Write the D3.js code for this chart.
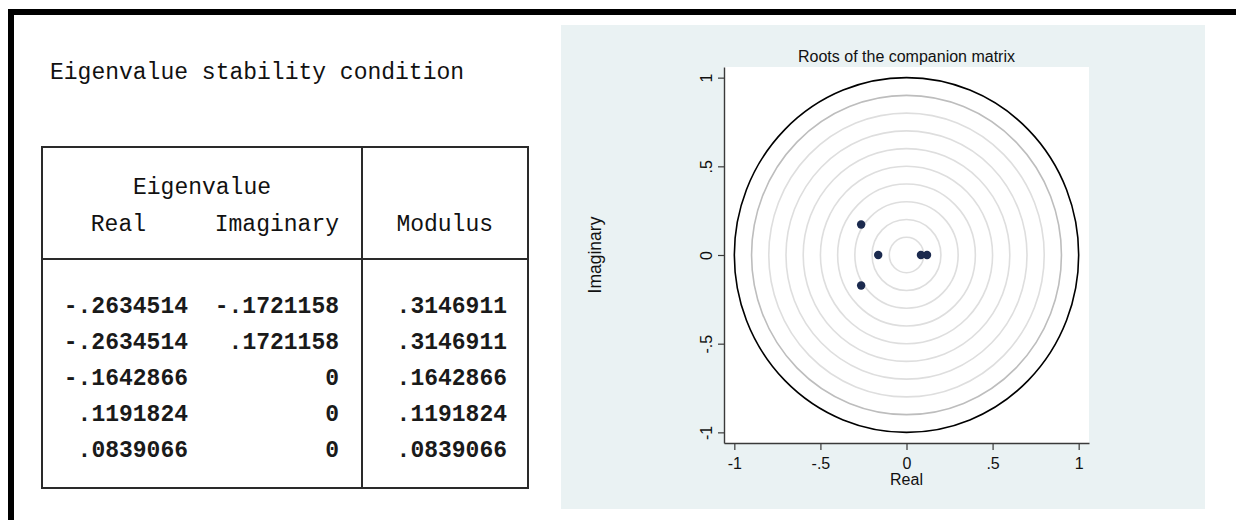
<!DOCTYPE html>
<html>
<head>
<meta charset="utf-8">
<script src="https://cdn.jsdelivr.net/npm/d3@7"></script>
<style>
  html, body { margin: 0; padding: 0; background: #fff; }
  svg { display: block; }
</style>
</head>
<body>
<svg id="chart" width="1236" height="520"></svg>
<script>
// ---- data ----
const realParts = [-0.2634514, -0.2634514, -0.1642866, 0.1191824, 0.0839066];
const imagParts = [-0.1721158, 0.1721158, 0, 0, 0];
const moduli    = [0.3146911, 0.3146911, 0.1642866, 0.1191824, 0.0839066];
const tickValues = [-1, -0.5, 0, 0.5, 1];
const tickLabels = ["-1", "-.5", "0", ".5", "1"];
const gridRadii = [0.1, 0.2, 0.3, 0.4, 0.5, 0.6, 0.7, 0.8, 0.9];
const tableTitle = "Eigenvalue stability condition";
const headerTop = "Eigenvalue";
const headerCols = ["Real", "Imaginary", "Modulus"];
const chartTitle = "Roots of the companion matrix";
const xTitle = "Real";
const yTitle = "Imaginary";

const svg = d3.select("#chart");
const mono = "'Courier New', 'Liberation Mono', monospace";
const sans = "Arial, 'Liberation Sans', sans-serif";

// ---- black frame ----
svg.append("rect").attr("x", 8).attr("y", 9).attr("width", 1228).attr("height", 6).attr("fill", "#000");
svg.append("rect").attr("x", 8).attr("y", 9).attr("width", 6).attr("height", 511).attr("fill", "#000");

// ---- table ----
function stataFmt(v) {
  if (v === 0) return "0";
  const s = Math.abs(v).toFixed(7).replace(/^0\./, ".");
  return (v < 0 ? "-" : "") + s;
}
const T = svg.append("g");
T.append("text").attr("x", 50).attr("y", 79).attr("font-family", mono).attr("font-size", 23)
  .attr("fill", "#111").text(tableTitle);

const tblL = 42, tblR = 528, tblT = 147, tblSep = 259, tblB = 488, tblDiv = 362;
const border = "#2a2a2a";
T.append("rect").attr("x", tblL).attr("y", tblT).attr("width", tblR - tblL).attr("height", tblB - tblT)
  .attr("fill", "none").attr("stroke", border).attr("stroke-width", 2);
T.append("line").attr("x1", tblL).attr("x2", tblR).attr("y1", tblSep).attr("y2", tblSep)
  .attr("stroke", border).attr("stroke-width", 2);
T.append("line").attr("x1", tblDiv).attr("x2", tblDiv).attr("y1", tblT).attr("y2", tblB)
  .attr("stroke", border).attr("stroke-width", 2);

const colRight = [188, 339, 507];
const hdrRight = [146, 339, 493];
T.append("text").attr("x", 202).attr("y", 194).attr("text-anchor", "middle")
  .attr("font-family", mono).attr("font-size", 23).attr("fill", "#111").text(headerTop);
T.selectAll("text.hdr").data(headerCols).join("text").attr("class", "hdr")
  .attr("x", (d, i) => hdrRight[i]).attr("y", 231).attr("text-anchor", "end")
  .attr("font-family", mono).attr("font-size", 23).attr("fill", "#111").text(d => d);

const rows = realParts.map((r, i) => [r, imagParts[i], moduli[i]]);
const rowY = d3.scaleLinear().domain([0, 1]).range([313, 349]);
const rg = T.selectAll("g.row").data(rows).join("g").attr("class", "row")
  .attr("transform", (d, i) => `translate(0,${rowY(i)})`);
rg.selectAll("text").data(d => d).join("text")
  .attr("x", (d, j) => colRight[j]).attr("y", 0).attr("text-anchor", "end")
  .attr("font-family", mono).attr("font-size", 23).attr("font-weight", "bold").attr("fill", "#1a1a1a")
  .text(d => stataFmt(d));

// ---- graph panel ----
svg.append("rect").attr("x", 561).attr("y", 25).attr("width", 644).attr("height", 484).attr("fill", "#eaf2f3");

const pL = 724, pR = 1089, pT = 67, pB = 443;
const x = d3.scaleLinear().domain([-1.06, 1.06]).range([pL, pR]);
const y = d3.scaleLinear().domain([-1.06, 1.06]).range([pB, pT]);

svg.append("rect").attr("x", pL).attr("y", pT).attr("width", pR - pL).attr("height", pB - pT).attr("fill", "#fff");

const cx = x(0), cy = y(0);
const kx = x(1) - x(0), ky = y(0) - y(1);
svg.append("g").selectAll("ellipse").data(gridRadii).join("ellipse")
  .attr("cx", cx).attr("cy", cy)
  .attr("rx", d => d * kx).attr("ry", d => d * ky)
  .attr("fill", "none")
  .attr("stroke", d => d === 0.9 ? "#bdbdbd" : "#dedede")
  .attr("stroke-width", 1.6);
svg.append("ellipse").attr("cx", cx).attr("cy", cy).attr("rx", kx).attr("ry", ky)
  .attr("fill", "none").attr("stroke", "#000").attr("stroke-width", 1.6);

svg.append("g").selectAll("circle").data(realParts.map((r, i) => [r, imagParts[i]])).join("circle")
  .attr("cx", d => x(d[0])).attr("cy", d => y(d[1])).attr("r", 4.2).attr("fill", "#1b2a4e");

// axes
const axisColor = "#3a3a3a";
const gx = svg.append("g").attr("transform", `translate(0,${pB})`)
  .call(d3.axisBottom(x).tickValues(tickValues).tickFormat((d, i) => tickLabels[i]).tickSize(7).tickSizeOuter(0));
gx.select(".domain").attr("stroke", axisColor).attr("stroke-width", 1.4);
gx.selectAll(".tick line").attr("stroke", axisColor).attr("stroke-width", 1.2);
gx.selectAll(".tick text").attr("y", 26).attr("dy", 0).attr("font-family", sans).attr("font-size", 16).attr("fill", "#111");

const gy = svg.append("g").attr("transform", `translate(${pL},0)`)
  .call(d3.axisLeft(y).tickValues(tickValues).tickFormat((d, i) => tickLabels[i]).tickSize(6).tickSizeOuter(0));
gy.select(".domain").attr("stroke", axisColor).attr("stroke-width", 1.4);
gy.selectAll(".tick line").attr("stroke", axisColor).attr("stroke-width", 1.2);
gy.selectAll(".tick text").attr("transform", "rotate(-90)").attr("x", 0).attr("y", -12).attr("dy", 0)
  .attr("text-anchor", "middle").attr("font-family", sans).attr("font-size", 16).attr("fill", "#111");

svg.append("text").attr("x", cx).attr("y", 62).attr("text-anchor", "middle")
  .attr("font-family", sans).attr("font-size", 16).attr("fill", "#111").text(chartTitle);
svg.append("text").attr("x", cx).attr("y", 485).attr("text-anchor", "middle")
  .attr("font-family", sans).attr("font-size", 16).attr("fill", "#111").text(xTitle);
svg.append("text").attr("transform", `translate(601,255) rotate(-90)`).attr("text-anchor", "middle")
  .attr("font-family", sans).attr("font-size", 17.5).attr("fill", "#111").text(yTitle);
</script>
</body>
</html>
